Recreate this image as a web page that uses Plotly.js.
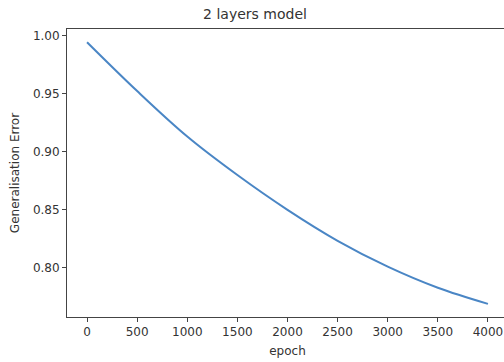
<!DOCTYPE html>
<html>
<head>
<meta charset="utf-8">
<script src="https://cdn.plot.ly/plotly-3.0.1.min.js"></script>
<style>
html,body{margin:0;padding:0;overflow:hidden;background:#fff;}
#chart{width:510px;height:362px;}
</style>
</head>
<body>
<div id="chart"></div>
<script>
const epochs = [0, 500, 1000, 1500, 2000, 2500, 3000, 3500, 4000];
const genError = [0.9945, 0.9524, 0.9132, 0.8800, 0.8500, 0.8233, 0.8010, 0.7828, 0.7689];
const xTicks = [0, 500, 1000, 1500, 2000, 2500, 3000, 3500, 4000];
const yTicks = [0.80, 0.85, 0.90, 0.95, 1.00];
const yTickText = ["0.80", "0.85", "0.90", "0.95", "1.00"];

const font = {family: "DejaVu Sans", size: 12, color: "#333"};
const axisCommon = {
  showgrid: false, zeroline: false, showline: true, mirror: true,
  linecolor: "#444", linewidth: 1, ticks: "outside", ticklen: 4,
  tickcolor: "#444", tickfont: font
};

Plotly.newPlot("chart", [{
  x: epochs, y: genError, type: "scatter", mode: "lines",
  line: {color: "#4a86c5", width: 2, shape: "spline", smoothing: 1}
}], {
  width: 510, height: 362,
  margin: {l: 67, r: 2, t: 29, b: 45},
  paper_bgcolor: "#fff", plot_bgcolor: "#fff",
  showlegend: false,
  font: font,
  title: {text: "2 layers model", font: {family: "DejaVu Sans", size: 14, color: "#333"}, x: 0.5, xanchor: "center", y: 0.96, yanchor: "middle"},
  xaxis: Object.assign({}, axisCommon, {
    range: [-200, 4200], tickvals: xTicks,
    title: {text: "epoch", font: {family: "DejaVu Sans", size: 12, color: "#333"}, standoff: 8}
  }),
  yaxis: Object.assign({}, axisCommon, {
    range: [0.7576, 1.0059], tickvals: yTicks, ticktext: yTickText,
    title: {text: "Generalisation Error", font: {family: "DejaVu Sans", size: 12, color: "#333"}, standoff: 10}
  })
}, {staticPlot: true});
</script>
</body>
</html>
